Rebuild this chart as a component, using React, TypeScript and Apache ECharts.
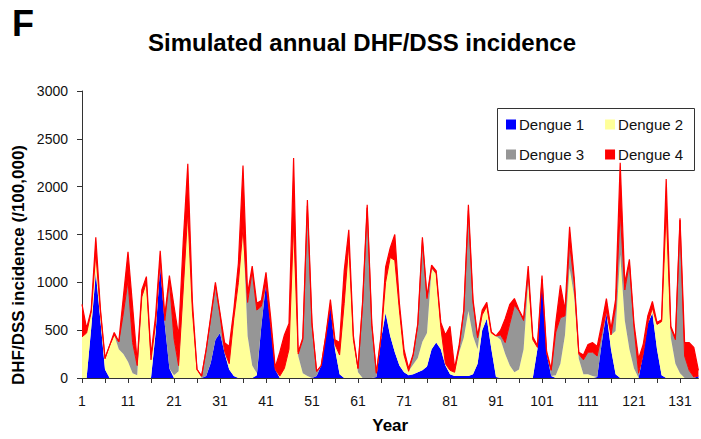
import React, { useEffect, useRef } from "react";
import * as echarts from "echarts";

const years: string[] = Array.from({ length: 135 }, (_, i) => String(i + 1));

const dengue1: number[] = [
  0, 0, 520, 1100, 600, 90, 0, 0, 0, 0,
  0, 0, 0, 0, 0, 0, 470, 1180, 560, 100,
  0, 0, 0, 0, 0, 0, 0, 20, 160, 400,
  470, 260, 90, 20, 0, 0, 0, 0, 30, 550,
  990, 560, 90, 0, 0, 0, 0, 0, 0, 0,
  0, 20, 130, 440, 760, 300, 40, 0, 0, 0,
  0, 0, 0, 0, 10, 400, 680, 440, 270, 130,
  60, 30, 40, 60, 80, 120, 300, 370, 300, 130,
  40, 20, 20, 20, 20, 40, 150, 500, 620, 300,
  10, 0, 0, 0, 0, 0, 0, 0, 0, 300,
  1030, 260, 20, 0, 0, 0, 0, 0, 0, 0,
  0, 0, 10, 370, 680, 300, 40, 0, 0, 0,
  0, 0, 250, 570, 680, 300, 30, 0, 0, 0,
  0, 0, 0, 0, 20,
];

const dengue2: number[] = [
  430, 470, 170, 200, 100, 110, 340, 450, 300, 250,
  170, 50, 30, 830, 1000, 190, 100, 50, 0, 0,
  30, 70, 900, 1740, 700, 90, 0, 0, 0, 0,
  0, 0, 50, 600, 1000, 1570, 440, 130, 20, 0,
  0, 0, 0, 20, 100, 300, 1600, 230, 50, 20,
  0, 0, 0, 0, 0, 50, 200, 780, 1400, 400,
  60, 0, 0, 0, 0, 20, 320, 820, 960, 580,
  180, 40, 100, 150, 300, 350, 840, 720, 230, 20,
  40, 40, 250, 400, 680, 400, 150, 160, 130, 170,
  430, 400, 250, 130, 60, 90, 300, 1000, 400, 20,
  0, 0, 0, 30, 150, 450, 1150, 850, 200, 40,
  40, 20, 0, 0, 0, 150, 450, 1290, 600, 300,
  100, 0, 0, 0, 50, 260, 560, 1750, 420, 150,
  50, 0, 0, 0, 0,
];

const dengue3: number[] = [
  0, 0, 0, 0, 0, 0, 0, 0, 80, 430,
  850, 320, 100, 20, 0, 0, 0, 0, 40, 920,
  380, 60, 20, 0, 0, 0, 20, 280, 470, 570,
  190, 20, 10, 0, 0, 0, 350, 990, 660, 200,
  0, 0, 0, 0, 0, 0, 0, 20, 350, 1780,
  550, 50, 0, 0, 0, 0, 0, 0, 0, 0,
  40, 780, 1780, 550, 40, 0, 0, 0, 0, 0,
  0, 0, 100, 350, 1060, 360, 20, 0, 0, 0,
  0, 0, 50, 280, 1050, 350, 120, 0, 0, 0,
  0, 50, 120, 440, 700, 610, 300, 100, 0, 0,
  0, 0, 60, 450, 480, 200, 250, 150, 50, 150,
  230, 250, 220, 100, 20, 0, 250, 450, 320, 900,
  430, 50, 0, 0, 0, 0, 0, 0, 100, 250,
  1600, 230, 80, 10, 0,
];

const dengue4: number[] = [
  340, 50, 20, 170, 20, 10, 0, 25, 0, 170,
  300, 380, 40, 70, 60, 50, 80, 100, 50, 50,
  340, 310, 500, 500, 100, 0, 0, 0, 20, 30,
  20, 90, 180, 90, 200, 650, 90, 50, 70, 60,
  115, 80, 20, 250, 350, 270, 700, 20, 20, 60,
  30, 0, 0, 0, 60, 50, 130, 340, 150, 40,
  0, 20, 30, 20, 0, 20, 160, 100, 270, 70,
  60, 30, 10, 10, 30, 20, 20, 30, 50, 300,
  460, 40, 30, 10, 60, 30, 20, 50, 40, 10,
  0, 50, 250, 200, 70, 10, 20, 70, 30, 20,
  40, 20, 10, 100, 340, 60, 180, 50, 20, 50,
  80, 100, 100, 100, 130, 60, 80, 510, 70, 40,
  40, 150, 100, 80, 70, 20, 20, 330, 20, 20,
  20, 140, 290, 310, 60,
];

const seriesNames: string[] = ["Dengue 1", "Dengue 2", "Dengue 3", "Dengue 4"];
const yTicks: number[] = [0, 500, 1000, 1500, 2000, 2500, 3000];

const FONT = '"Liberation Sans", Arial, sans-serif';

export default function App() {
  const ref = useRef<HTMLDivElement>(null);

  useEffect(() => {
    if (!ref.current) return;
    const chart = echarts.init(ref.current, null, { renderer: "svg" });

    const mk = (name: string, data: number[], color: string, line: any) => ({
      name,
      type: "line",
      stack: "total",
      data,
      symbol: "none",
      smooth: false,
      itemStyle: { color },
      areaStyle: { color, opacity: 1 },
      lineStyle: line,
      emphasis: { disabled: true },
    });

    chart.setOption({
      animation: false,
      backgroundColor: "#ffffff",
      title: {
        text: "Simulated annual DHF/DSS incidence",
        left: 362,
        textAlign: "center",
        top: 30,
        padding: 0,
        textStyle: { fontFamily: FONT, fontSize: 24, fontWeight: "bold", color: "#000" },
      },
      graphic: [
        {
          type: "text",
          left: 12,
          top: 5,
          style: { text: "F", font: `bold 36px ${FONT}`, fill: "#000" },
        },
        {
          type: "text",
          x: 18,
          y: 265,
          rotation: Math.PI / 2,
          style: {
            text: "DHF/DSS incidence (/100,000)",
            font: `bold 17px ${FONT}`,
            fill: "#000",
            align: "center",
            verticalAlign: "middle",
          },
        },
        {
          type: "rect",
          z: 3,
          shape: { x: 497.5, y: 108.5, width: 197, height: 62 },
          style: { fill: "none", stroke: "#333", lineWidth: 1 },
        },
      ],
      legend: [
        {
          data: [seriesNames[0], seriesNames[1]],
          left: 506,
          top: 117,
          padding: 0,
          itemGap: 21,
          itemWidth: 10,
          itemHeight: 10,
          icon: "rect",
          textStyle: { fontFamily: FONT, fontSize: 15, color: "#111", padding: [0, 0, 0, -2] },
        },
        {
          data: [seriesNames[2], seriesNames[3]],
          left: 506,
          top: 147,
          padding: 0,
          itemGap: 21,
          itemWidth: 10,
          itemHeight: 10,
          icon: "rect",
          textStyle: { fontFamily: FONT, fontSize: 15, color: "#111", padding: [0, 0, 0, -2] },
        },
      ],
      grid: { left: 82, right: 2.6, top: 91, bottom: 55.7, containLabel: false },
      xAxis: {
        type: "category",
        data: years,
        boundaryGap: false,
        name: "Year",
        nameLocation: "middle",
        nameGap: 39,
        nameTextStyle: { fontFamily: FONT, fontSize: 17, fontWeight: "bold", color: "#000" },
        axisLine: { show: true, lineStyle: { color: "#333", width: 1 } },
        axisTick: {
          show: true,
          length: 5,
          interval: (i: number) => i % 5 === 0,
          lineStyle: { color: "#333" },
        },
        axisLabel: {
          interval: (i: number) => i % 10 === 0,
          margin: 16,
          fontFamily: FONT,
          fontSize: 14,
          color: "#111",
        },
        splitLine: { show: false },
      },
      yAxis: {
        type: "value",
        min: yTicks[0],
        max: yTicks[yTicks.length - 1],
        interval: 500,
        axisLine: { show: true, lineStyle: { color: "#333", width: 1 } },
        axisTick: { show: true, length: 5, lineStyle: { color: "#333" } },
        axisLabel: {
          margin: 14,
          fontFamily: FONT,
          fontSize: 14,
          color: "#111",
          formatter: (v: number) => String(v),
        },
        splitLine: { show: false },
      },
      series: [
        mk(seriesNames[0], dengue1, "#0000ff", { width: 0, opacity: 0 }),
        mk(seriesNames[1], dengue2, "#ffff99", { width: 0, opacity: 0 }),
        mk(seriesNames[2], dengue3, "#969696", { width: 1, color: "#ff0000" }),
        mk(seriesNames[3], dengue4, "#ff0000", { width: 1.2, color: "#ff0000" }),
      ],
    });

    return () => chart.dispose();
  }, []);

  return (
    <div
      ref={ref}
      style={{ position: "absolute", left: 0, top: 0, width: 701, height: 439 }}
    />
  );
}
